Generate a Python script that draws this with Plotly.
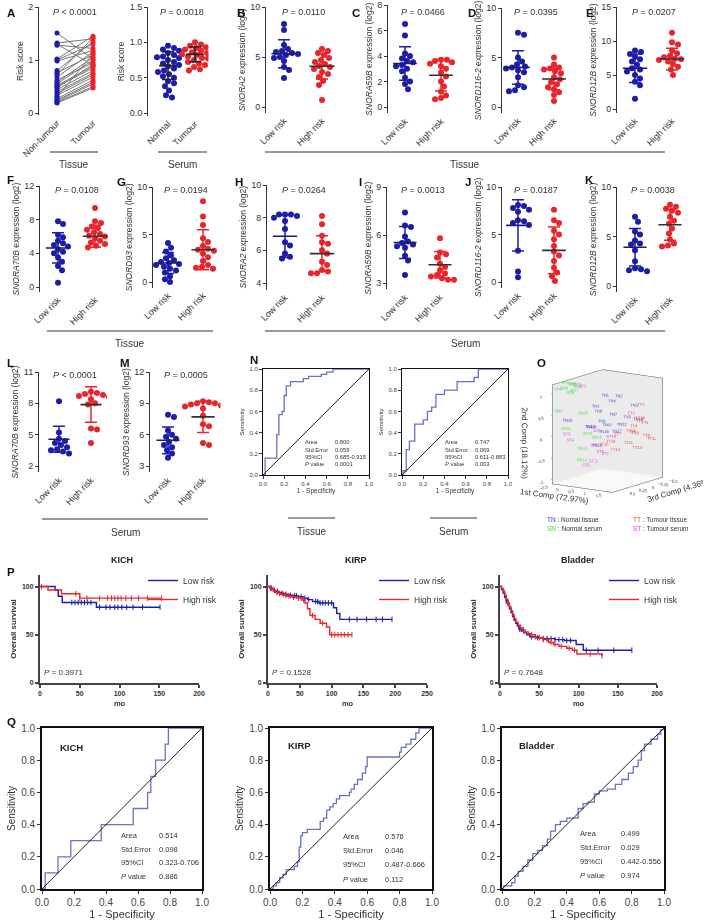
import plotly.graph_objects as go

W, H = 709, 923
FONT = 'Arial, Liberation Sans, sans-serif'
BLUE = '#1d1da8'
RED = '#e8252b'
ROC_LINE = '#6674c0'

# ---------------- data ----------------
# A: paired tissue risk scores (same patient, non-tumour vs tumour)
a_nontumour = [1.51, 1.32, 1.30, 1.28, 1.02, 1.00, 0.98, 0.80, 0.76, 0.72, 0.68, 0.62, 0.58, 0.55,
               0.52, 0.50, 0.47, 0.44, 0.40, 0.37, 0.33, 0.30, 0.27, 0.24, 0.22, 0.20, 0.19]
a_tumour = [1.02, 1.40, 0.90, 1.22, 1.45, 1.30, 1.18, 1.35, 1.10, 1.42, 1.15, 0.95, 1.05, 1.00,
            0.88, 0.85, 0.92, 0.80, 0.75, 0.72, 0.68, 1.12, 0.62, 0.58, 0.55, 0.50, 0.47]
# A: serum risk scores
a_normal = [0.95, 0.92, 0.90, 0.88, 0.85, 0.82, 0.80, 0.79, 0.78, 0.75, 0.72, 0.70, 0.68, 0.66,
            0.63, 0.60, 0.58, 0.55, 0.52, 0.50, 0.45, 0.42, 0.38, 0.32, 0.25, 0.22]
a_serum_tumour = [1.00, 0.97, 0.95, 0.93, 0.92, 0.90, 0.88, 0.86, 0.85, 0.83, 0.82, 0.80, 0.78,
                  0.77, 0.75, 0.72, 0.70, 0.68, 0.65, 0.62, 0.60]
a_serum_mean = [0.67, 0.83]
a_serum_sd = [0.195, 0.105]

# B-E tissue, F-G tissue, H-M serum (low risk / high risk, mean, SD)
b_low = [8.3, 7.7, 6.2, 5.8, 5.6, 5.5, 5.4, 5.3, 5.2, 5.0, 4.9, 4.6, 4.0, 3.7, 2.9]
b_high = [5.8, 5.6, 5.4, 5.2, 4.9, 4.7, 4.5, 4.3, 4.1, 4.0, 3.8, 3.5, 3.3, 3.0, 2.6, 2.2, 0.7]
b_mean, b_sd = [5.33, 4.07], [1.40, 1.27]

c_low = [6.5, 5.6, 4.2, 4.0, 3.8, 3.6, 3.5, 3.3, 3.2, 3.0, 2.8, 2.3, 2.0, 1.8, 1.4]
c_high = [3.7, 3.7, 3.6, 3.5, 3.4, 3.2, 3.0, 2.7, 2.4, 2.0, 1.6, 1.2, 0.9, 0.7, 0.6]
c_mean, c_sd = [3.41, 2.49], [1.31, 1.24]

d_low = [7.5, 7.3, 5.0, 4.6, 4.3, 4.1, 4.0, 3.9, 3.7, 3.5, 3.0, 2.2, 2.0, 1.7, 1.6]
d_high = [5.0, 4.3, 4.0, 3.9, 3.8, 3.6, 3.4, 3.0, 2.8, 2.5, 2.3, 2.0, 1.8, 1.5, 1.2, 0.6]
d_mean, d_sd = [4.00, 2.83], [1.69, 1.10]

e_low = [8.6, 8.4, 8.1, 7.7, 7.3, 7.0, 6.5, 6.0, 5.8, 5.5, 5.0, 4.5, 4.0, 3.5, 1.5]
e_high = [11.2, 9.8, 9.5, 8.6, 8.2, 7.8, 7.6, 7.4, 7.3, 7.2, 7.0, 6.6, 6.2, 5.8, 5.0]
e_mean, e_sd = [6.0, 7.35], [2.1, 1.6]

f_low = [7.8, 7.5, 6.2, 5.9, 5.5, 5.2, 5.0, 4.8, 4.5, 4.2, 4.0, 3.5, 3.0, 2.5, 2.0, 0.5]
f_high = [9.4, 7.8, 7.6, 7.2, 7.0, 6.8, 6.5, 6.3, 6.1, 6.0, 5.8, 5.5, 5.3, 5.1, 4.9, 4.7]
f_mean, f_sd = [4.64, 6.03], [1.80, 1.30]

g_low = [4.1, 3.6, 3.2, 2.8, 2.5, 2.3, 2.1, 2.0, 1.9, 1.8, 1.6, 1.4, 1.2, 1.0, 0.6, 0.3, 0.0]
g_high = [8.5, 6.9, 6.0, 4.6, 4.2, 3.8, 3.5, 3.4, 3.3, 3.0, 2.6, 2.2, 1.8, 1.6, 1.5, 1.4]
g_mean, g_sd = [2.0, 3.4], [1.1, 2.1]

h_low = [8.2, 8.2, 8.2, 8.1, 8.0, 7.8, 7.3, 6.5, 6.3, 5.8, 5.6, 5.5]
h_high = [8.1, 7.6, 6.9, 6.5, 6.4, 6.0, 5.8, 5.3, 5.1, 4.8, 4.7, 4.6, 4.6]
h_mean, h_sd = [6.86, 5.80], [1.30, 1.10]

i_low = [7.4, 6.6, 6.5, 5.9, 5.6, 5.5, 5.4, 5.3, 5.2, 4.7, 4.4, 3.5]
i_high = [5.8, 4.9, 4.8, 4.6, 4.2, 4.0, 3.8, 3.6, 3.5, 3.4, 3.3, 3.2, 3.2]
i_mean, i_sd = [5.53, 4.14], [1.00, 0.83]

j_low = [8.1, 8.0, 7.8, 7.6, 7.4, 6.5, 6.4, 6.2, 6.0, 3.3, 1.1, 0.5]
j_high = [7.6, 6.5, 6.2, 5.4, 5.0, 4.5, 3.8, 3.2, 2.8, 2.2, 1.5, 1.0, 0.6, 0.1]
j_mean, j_sd = [5.96, 3.33], [2.70, 2.45]

k_low = [7.0, 6.5, 5.5, 5.2, 4.6, 4.3, 4.2, 3.6, 2.5, 1.8, 1.7, 1.6, 1.5]
k_high = [8.2, 8.0, 7.8, 7.6, 7.4, 7.0, 6.6, 6.3, 5.8, 5.3, 4.7, 4.3, 4.1, 4.0]
k_mean, k_sd = [3.92, 6.18], [1.90, 1.55]

l_low = [8.2, 5.2, 4.6, 4.4, 4.2, 4.0, 3.8, 3.6, 3.5, 3.4, 3.2]
l_high = [9.1, 9.0, 8.9, 8.8, 8.7, 8.6, 8.4, 8.0, 7.9, 5.6, 5.5, 4.2]
l_mean, l_sd = [4.56, 7.88], [1.25, 1.70]

m_low = [7.9, 7.7, 6.4, 6.0, 5.8, 5.6, 5.3, 5.0, 4.8, 4.5, 4.2, 3.8]
m_high = [9.2, 9.1, 9.0, 9.0, 8.9, 8.8, 8.7, 8.5, 7.8, 7.0, 6.8, 5.2, 5.0]
m_mean, m_sd = [5.46, 7.70], [1.28, 1.50]

# N: ROC curves (tissue / serum)
n_tissue_fpr = [0, 0.02, 0.13, 0.15, 0.18, 0.20, 0.22, 0.26, 0.38, 0.43, 0.55, 0.60, 0.66, 1.0]
n_tissue_tpr = [0, 0.16, 0.38, 0.57, 0.60, 0.75, 0.84, 0.88, 0.91, 0.93, 0.95, 0.97, 1.0, 1.0]
n_serum_fpr = [0, 0.01, 0.04, 0.07, 0.12, 0.20, 0.24, 0.28, 0.32, 0.40, 0.52, 0.68, 0.72, 1.0]
n_serum_tpr = [0, 0.04, 0.24, 0.32, 0.48, 0.52, 0.60, 0.64, 0.76, 0.80, 0.88, 0.92, 1.0, 1.0]
n_tissue_stats = ['0.800', '0.059', '0.685-0.915', '0.0001']
n_serum_stats = ['0.747', '0.069', '0.611-0.883', '0.003']

# O: PCA scores (1st, 2nd, 3rd component)
o_tn_pc1 = [0.60, 0.65, 0.55, 0.70, 0.90, 0.50, 0.60, 0.70, 0.80, 0.50, 0.60, 0.75, 0.90, 0.40, -0.40, 0.55, 0.65, 0.45]
o_tn_pc2 = [0.80, 0.70, 0.60, 0.65, 0.45, 0.45, 0.30, 0.25, 0.20, 0.15, 0.10, 0.05, 0.10, 0.10, 0.20, -0.05, -0.10, -0.35]
o_tn_pc3 = [0.10, -0.20, 0.30, 0.00, -0.40, 0.20, -0.10, 0.25, -0.30, 0.40, 0.05, -0.20, -0.50, 0.30, 0.35, 0.10, -0.15, 0.20]
o_tt_pc1 = [1.00, 0.95, 1.10, 1.20, 1.00, 1.30, 0.90, 1.10, 1.20, 0.80, 1.00, 1.25, 0.90, 1.10, 0.70, 1.05, 1.15]
o_tt_pc2 = [0.45, 0.30, 0.10, 0.05, 0.00, -0.05, -0.10, -0.15, -0.25, -0.25, -0.35, -0.35, -0.45, -0.50, -0.30, 0.15, -0.05]
o_tt_pc3 = [-0.50, -0.30, -0.40, -0.20, -0.60, -0.10, 0.00, -0.30, -0.50, 0.10, -0.20, -0.60, 0.05, -0.35, 0.20, -0.45, -0.15]
o_sn_pc1 = [-0.40, -0.35, -0.30, -0.25, -0.20, -0.15, -0.30, -0.45, -0.50, 0.10, -0.30, 0.10, 0.15, 0.20, 0.30]
o_sn_pc2 = [1.10, 1.05, 1.00, 0.95, 1.05, 0.90, 0.88, 0.98, 0.45, 0.40, 0.05, -0.10, -0.40, -0.65, -0.20]
o_sn_pc3 = [0.40, 0.30, 0.50, 0.20, 0.35, 0.45, 0.25, 0.55, 0.50, 0.30, 0.45, 0.20, 0.35, 0.40, 0.10]
o_st_pc1 = [-0.10, 0.00, -0.35, -0.30, 0.30, 0.35, 0.45, 0.50, 0.20, 0.60, 0.40]
o_st_pc2 = [1.05, 1.00, -0.10, -0.25, -0.05, -0.35, -0.60, -0.50, -0.80, -0.20, -0.70]
o_st_pc3 = [0.30, 0.25, 0.40, 0.35, 0.10, 0.20, 0.00, 0.15, 0.30, -0.05, 0.25]

# P: Kaplan-Meier (step times in months, survival %, censor times)
kich_low_t = [0, 19, 23, 28, 71, 151]
kich_low_s = [100, 96.5, 90, 83.5, 78.6, 78.6]
kich_low_cens = [40, 44, 48, 52, 56, 60, 64, 75, 83, 88, 94, 98, 103, 109, 117, 129, 151]
kich_high_t = [0, 10, 27, 50, 153]
kich_high_s = [100, 96.5, 92.5, 88, 88]
kich_high_cens = [2, 45, 50, 59, 75, 85, 90, 94, 98, 102, 108, 115, 124, 135, 153]

kirp_low_t = [0, 3, 6, 9, 12, 16, 20, 25, 32, 40, 48, 55, 62, 70, 80, 103, 108, 113, 195]
kirp_low_s = [100, 98.5, 97, 96, 95, 94, 93, 92, 91, 90.5, 89.5, 88, 86.5, 84.5, 83, 78, 72, 66, 66]
kirp_low_cens = [5, 10, 15, 22, 28, 35, 42, 45, 52, 58, 64, 75, 78, 82, 86, 90, 95, 100, 128, 140, 155, 170, 180, 195]
kirp_high_t = [0, 3, 6, 9, 12, 16, 20, 25, 30, 38, 45, 52, 58, 62, 66, 74, 82, 92, 97, 132]
kirp_high_s = [100, 98, 97, 96, 94, 93, 92, 91, 90, 89, 88, 86, 83, 77, 70, 66, 62, 58, 50, 50]
kirp_high_cens = [4, 8, 14, 18, 24, 28, 33, 40, 48, 56, 70, 86, 100, 105, 110, 115, 120, 126, 132]

blad_low_t = [0, 2, 4, 6, 8, 10, 12, 14, 16, 18, 20, 22, 24, 27, 30, 34, 38, 45, 55, 70, 82, 97, 106, 168]
blad_low_s = [100, 97, 93, 89, 85, 81, 77, 73, 69, 65, 62, 59, 56, 54, 52, 50, 48, 47, 46, 45, 44, 40, 34, 34]
blad_low_cens = [8, 25, 40, 48, 55, 60, 65, 70, 75, 80, 85, 90, 110, 125, 145, 168]
blad_high_t = [0, 2, 4, 6, 8, 10, 12, 14, 16, 18, 20, 23, 26, 29, 32, 36, 40, 45, 50, 55, 62, 68, 75, 85, 92, 98, 130]
blad_high_s = [100, 98, 95, 91, 87, 83, 79, 75, 71, 67, 63, 60, 57, 55, 53, 51, 50, 48, 47, 45, 42, 40, 38, 36, 34, 30, 28]
blad_high_cens = [5, 10, 30, 40, 45, 50, 55, 60, 65, 70, 78, 88, 95, 115, 130]

# Q: ROC curves on TCGA cohorts
q_kich_fpr = [0, 0.02, 0.10, 0.18, 0.37, 0.57, 0.66, 0.68, 0.71, 0.77, 0.79, 1.0]
q_kich_tpr = [0, 0.10, 0.20, 0.30, 0.40, 0.50, 0.60, 0.70, 0.80, 0.90, 1.0, 1.0]
q_kirp_fpr = [0, 0.02, 0.04, 0.06, 0.08, 0.10, 0.13, 0.15, 0.17, 0.18, 0.19, 0.20, 0.23, 0.31, 0.33,
              0.35, 0.37, 0.39, 0.41, 0.43, 0.49, 0.50, 0.52, 0.54, 0.57, 0.59, 0.60, 0.80, 0.81, 0.84,
              0.87, 0.90, 0.92, 1.0]
q_kirp_tpr = [0, 0.02, 0.04, 0.07, 0.09, 0.12, 0.12, 0.14, 0.17, 0.26, 0.33, 0.35, 0.37, 0.42, 0.44,
              0.49, 0.51, 0.53, 0.56, 0.58, 0.60, 0.62, 0.65, 0.68, 0.72, 0.76, 0.82, 0.85, 0.88, 0.90,
              0.93, 0.97, 1.0, 1.0]
q_blad_fpr = [0, 0.01, 0.03, 0.06, 0.08, 0.10, 0.13, 0.16, 0.19, 0.22, 0.25, 0.28, 0.30, 0.33, 0.36,
              0.40, 0.44, 0.47, 0.50, 0.53, 0.57, 0.60, 0.65, 0.70, 0.74, 0.78, 0.81, 0.84, 0.86, 0.88,
              0.92, 0.96, 0.98, 1.0]
q_blad_tpr = [0.0, 0.02, 0.02, 0.04, 0.08, 0.11, 0.14, 0.18, 0.22, 0.24, 0.27, 0.31, 0.36, 0.40, 0.42,
              0.44, 0.44, 0.50, 0.53, 0.54, 0.59, 0.61, 0.62, 0.65, 0.68, 0.72, 0.76, 0.80, 0.86, 0.90,
              0.93, 0.96, 0.99, 1.0]
q_kich_stats = ['0.514', '0.098', '0.323-0.706', '0.886']
q_kirp_stats = ['0.576', '0.046', '0.487-0.666', '0.112']
q_blad_stats = ['0.499', '0.029', '0.442-0.556', '0.974']

stat_names = ['Area', 'Std.Error', '95%CI', '<i>P</i> value']
risk_labels = ['Low risk', 'High risk']

# ---------------- helpers ----------------
fig = go.Figure()
axes = {}
ann = []
shapes = []
n_ax = [0]


def new_axes(x0, x1, y0, y1, xkw, ykw):
    n_ax[0] += 1
    s = '' if n_ax[0] == 1 else str(n_ax[0])
    axes['xaxis' + s] = dict(domain=[x0 / W, x1 / W], anchor='y' + s, automargin=False, **xkw)
    axes['yaxis' + s] = dict(domain=[1 - y1 / H, 1 - y0 / H], anchor='x' + s, automargin=False, **ykw)
    return 'x' + s, 'y' + s


def label(x, y, s, size=9, color='#222', xanchor='center', yanchor='middle', weight='normal'):
    ann.append(dict(x=x / W, y=1 - y / H, xref='paper', yref='paper', text=s, showarrow=False,
                    xanchor=xanchor, yanchor=yanchor,
                    font=dict(size=size, color=color, family=FONT, weight=weight)))


def hline(y, x0, x1, width=1.2):
    shapes.append(dict(type='line', xref='paper', yref='paper', x0=x0 / W, x1=x1 / W,
                       y0=1 - y / H, y1=1 - y / H, line=dict(color='#333', width=width)))


def swarm(vals, center, ppx, ppy, d=5.6, step=1.0):
    placed, out = [], []
    for v in vals:
        yp = v * ppy
        k = 0
        pos = None
        while pos is None:
            for o in ([0.0] if k == 0 else [k * step, -k * step]):
                if all((o - a) ** 2 + (yp - b) ** 2 >= d * d for a, b in placed):
                    pos = o
                    break
            k += 1
        placed.append((pos, yp))
        out.append(center + pos / ppx)
    return out


def dot_axes(geom, ticktext, ytitle, ptext, p_y, tickfmt=None):
    yax_x, c0, c1, yt_px, yt_v, yb_px, yb_v, ymin, tickvals = geom
    ppx = c1 - c0
    ppy = (yb_px - yt_px) / (yt_v - yb_v)
    xmin = (yax_x - c0) / ppx
    y_bottom = yb_px + (yb_v - ymin) * ppy
    xa, ya = new_axes(
        yax_x, c0 + 1.5 * ppx, yt_px, y_bottom,
        dict(range=[xmin, 1.5], showline=False, showgrid=False, zeroline=False, tickvals=[0, 1],
             ticktext=ticktext, tickangle=-45, ticks='', tickfont=dict(size=9, color='#333', family=FONT)),
        dict(range=[ymin, yt_v], showline=True, linecolor='#333', linewidth=1, ticks='outside', ticklen=3,
             tickcolor='#333', tickvals=tickvals, tickformat=tickfmt, showgrid=False, zeroline=False,
             tickfont=dict(size=9, color='#333', family=FONT),
             title=dict(text=ytitle, font=dict(size=8.5, color='#333', family=FONT), standoff=3)))
    label((c0 + c1) / 2, p_y, ptext, size=9, color='#333')
    return xa, ya, ppx, ppy


def dot_panel(geom, low, high, mean, sd, ticktext, ytitle, ptext, p_y,
              sd_colors=(BLUE, RED), mean_colors=('#1a1a70', '#333'), tickfmt=None):
    xa, ya, ppx, ppy = dot_axes(geom, ticktext, ytitle, ptext, p_y, tickfmt)
    for c, vals, col in ((0, low, BLUE), (1, high, RED)):
        fig.add_trace(go.Scatter(x=swarm(vals, c, ppx, ppy), y=vals, mode='markers', xaxis=xa, yaxis=ya,
                                 marker=dict(size=6, color=col), showlegend=False, hoverinfo='y'))
    for c in (0, 1):
        fig.add_trace(go.Scatter(x=[c], y=[mean[c]], mode='markers', xaxis=xa, yaxis=ya,
                                 marker=dict(size=1, color='rgba(0,0,0,0)'), showlegend=False,
                                 error_y=dict(type='data', array=[sd[c]], width=6, thickness=1.5,
                                              color=sd_colors[c])))
        fig.add_trace(go.Scatter(x=[c - 0.33, c + 0.33], y=[mean[c], mean[c]], mode='lines', xaxis=xa,
                                 yaxis=ya, line=dict(color=mean_colors[c], width=1.6), showlegend=False))


# ---------------- A (paired tissue) ----------------
xa, ya, ppx, ppy = dot_axes((39, 57, 93, 7, 2, 113, 0, -0.04, [0, 1, 2]), ['Non-tumour', 'Tumour'],
                            'Risk score', '<i>P</i> < 0.0001', 12)
px_, py_ = [], []
for u, v in zip(a_nontumour, a_tumour):
    px_ += [0, 1, None]
    py_ += [u, v, None]
fig.add_trace(go.Scatter(x=px_, y=py_, mode='lines', xaxis=xa, yaxis=ya, line=dict(color='#777', width=1),
                         showlegend=False, hoverinfo='skip'))
fig.add_trace(go.Scatter(x=[0] * len(a_nontumour), y=a_nontumour, mode='markers', xaxis=xa, yaxis=ya,
                         marker=dict(size=5, color=BLUE), showlegend=False))
fig.add_trace(go.Scatter(x=[1] * len(a_tumour), y=a_tumour, mode='markers', xaxis=xa, yaxis=ya,
                         marker=dict(size=5, color=RED), showlegend=False))

# A (serum)
dot_panel((148, 168, 195, 7, 1.5, 113, 0, -0.04, [0, 0.5, 1.0, 1.5]), a_normal, a_serum_tumour,
          a_serum_mean, a_serum_sd, ['Normal', 'Tumour'], 'Risk score', '<i>P</i> = 0.0018', 12,
          sd_colors=('#222', '#222'), mean_colors=('#222', '#222'), tickfmt='.1f')

panels = [
    ((266, 284, 322, 7, 10, 107, 0, -0.6, [0, 5, 10]), b_low, b_high, b_mean, b_sd, 'SNORA2', '0.0110', 12),
    ((388, 405, 441, 5, 8, 107, 0, -0.5, [0, 2, 4, 6, 8]), c_low, c_high, c_mean, c_sd, 'SNORA59B', '0.0466', 12),
    ((502, 518, 554, 8, 10, 107, 0, -0.6, [0, 5, 10]), d_low, d_high, d_mean, d_sd, 'SNORD116-2', '0.0395', 12),
    ((617, 635, 672, 7, 15, 109, 0, -0.6, [0, 5, 10, 15]), e_low, e_high, e_mean, e_sd, 'SNORD12B', '0.0207', 12),
    ((40, 58, 95, 186, 12, 287, 0, -0.6, [0, 4, 8, 12]), f_low, f_high, f_mean, f_sd, 'SNORA70B', '0.0108', 190),
    ((153, 168, 203, 187, 10, 282, 0, -0.6, [0, 5, 10]), g_low, g_high, g_mean, g_sd, 'SNORD93', '0.0194', 190),
    ((267, 285, 322, 185, 10, 283, 4, 3.6, [4, 6, 8, 10]), h_low, h_high, h_mean, h_sd, 'SNORA2', '0.0264', 190),
    ((387, 405, 440, 187, 9, 283, 3, 2.6, [3, 6, 9]), i_low, i_high, i_mean, i_sd, 'SNORA59B', '0.0013', 190),
    ((502, 518, 554, 187, 10, 282, 0, -0.6, [0, 5, 10]), j_low, j_high, j_mean, j_sd, 'SNORD116-2', '0.0187', 190),
    ((617, 635, 670, 187, 10, 286, 0, -0.6, [0, 5, 10]), k_low, k_high, k_mean, k_sd, 'SNORD12B', '0.0038', 190),
    ((39, 59, 91, 372, 11, 466, 2, 1.4, [2, 5, 8, 11]), l_low, l_high, l_mean, l_sd, 'SNORA70B', '< 0.0001', 375),
    ((150, 168, 203, 372, 12, 466, 3, 2.4, [3, 6, 9, 12]), m_low, m_high, m_mean, m_sd, 'SNORD93', '0.0005', 375),
]
for geom, lo, hi, mn, sd, gene, p, p_y in panels:
    ptxt = '<i>P</i> ' + (p if p.startswith('<') else '= ' + p)
    dot_panel(geom, lo, hi, mn, sd, risk_labels, '<i>%s</i> expression (log2)' % gene, ptxt, p_y)


# ---------------- ROC helper ----------------
def roc_panel(x0, x1, y0, y1, fpr, tpr, stats, sx, vx, sy, tick, tsize, xtsize, lw, ssize,
              title=None, title_xy=None, ytitle_standoff=4):
    tf = dict(size=tick, color='#444', family=FONT)
    common = dict(range=[0, 1], tickvals=[0, 0.2, 0.4, 0.6, 0.8, 1.0], tickformat='.1f', showline=True,
                  mirror=True, linecolor='#111', linewidth=lw, ticks='outside', ticklen=3, tickcolor='#333',
                  showgrid=False, zeroline=False, tickfont=tf)
    xa, ya = new_axes(x0, x1, y0, y1,
                      dict(common, title=dict(text='1 - Specificity', standoff=2,
                                              font=dict(size=xtsize, color='#333', family=FONT))),
                      dict(common, title=dict(text='Sensitivity', standoff=ytitle_standoff,
                                              font=dict(size=tsize, color='#333', family=FONT))))
    shapes.append(dict(type='line', xref=xa, yref=ya, x0=0, y0=0, x1=1, y1=1,
                       line=dict(color='#222', width=1)))
    fig.add_trace(go.Scatter(x=fpr, y=tpr, mode='lines', line=dict(color=ROC_LINE, width=1.3, shape='hv'),
                             xaxis=xa, yaxis=ya, showlegend=False))
    for name, val, yy in zip(stat_names, stats, sy):
        for xx, t in ((sx, name), (vx, val)):
            ann.append(dict(x=xx, y=yy, xref=xa, yref=ya, text=t, showarrow=False, xanchor='left',
                            font=dict(size=ssize, color='#333', family=FONT)))
    if title:
        ann.append(dict(x=title_xy[0], y=title_xy[1], xref=xa, yref=ya, text=title, showarrow=False,
                        xanchor='left', font=dict(size=9.5, color='#222', family=FONT, weight='bold')))


# N
roc_panel(263, 369, 369, 475, n_tissue_fpr, n_tissue_tpr, n_tissue_stats, 0.38, 0.66,
          [0.31, 0.24, 0.17, 0.10], 6, 6, 6.5, 1, 5.8)
roc_panel(402, 508, 369, 475, n_serum_fpr, n_serum_tpr, n_serum_stats, 0.39, 0.67,
          [0.31, 0.24, 0.17, 0.10], 6, 6, 6.5, 1, 5.8)

# Q
roc_panel(42, 202, 728, 889, q_kich_fpr, q_kich_tpr, q_kich_stats, 0.48, 0.72,
          [0.333, 0.244, 0.166, 0.075], 10, 10, 11, 1.6, 7.5, 'KICH', (0.1, 0.88))
roc_panel(270, 432, 728, 889, q_kirp_fpr, q_kirp_tpr, q_kirp_stats, 0.44, 0.70,
          [0.327, 0.238, 0.151, 0.062], 10, 10, 11, 1.6, 7.5, 'KIRP', (0.1, 0.89))
roc_panel(502, 664, 728, 889, q_blad_fpr, q_blad_tpr, q_blad_stats, 0.47, 0.72,
          [0.346, 0.257, 0.17, 0.083], 10, 10, 11, 1.6, 7.5, 'Bladder', (0.09, 0.89))


# ---------------- P: Kaplan-Meier ----------------
def surv_at(ts, ss, t):
    s = ss[0]
    for ti, si in zip(ts, ss):
        if ti <= t:
            s = si
    return s


def km_panel(x0, x1, xmax, xticks, curves, ptext, legend_name, title, title_x):
    tf = dict(size=7, color='#333', family=FONT, weight='bold')
    xa, ya = new_axes(x0, x1, 575, 683,
                      dict(range=[0, xmax], tickvals=xticks, showline=True, linecolor='#444', linewidth=2,
                           ticks='outside', ticklen=3, tickwidth=1.5, tickcolor='#444', showgrid=False,
                           zeroline=False, tickfont=tf,
                           title=dict(text='mo', standoff=4, font=dict(size=7.5, color='#333', family=FONT,
                                                                         weight='bold'))),
                      dict(range=[0, 112], tickvals=[0, 50, 100], showline=True, linecolor='#444', linewidth=2,
                           ticks='outside', ticklen=3, tickwidth=1.5, tickcolor='#444', showgrid=False,
                           zeroline=False, tickfont=tf,
                           title=dict(text='Overall survival', standoff=4,
                                      font=dict(size=8, color='#333', family=FONT, weight='bold'))))
    for name, ts, ss, cens, col in curves:
        fig.add_trace(go.Scatter(x=ts, y=ss, mode='lines', name=name, legend=legend_name,
                                 line=dict(color=col, width=1.4, shape='hv'), xaxis=xa, yaxis=ya))
        fig.add_trace(go.Scatter(x=cens, y=[surv_at(ts, ss, c) for c in cens], mode='markers',
                                 marker=dict(symbol='line-ns', size=4, line=dict(width=1, color=col)),
                                 xaxis=xa, yaxis=ya, showlegend=False))
    ann.append(dict(x=3, y=11, xref=xa, yref=ya, text=ptext, showarrow=False, xanchor='left',
                    font=dict(size=8, color='#333', family=FONT)))
    label(title_x, 560, title, size=9, weight='bold')


km_panel(40, 199, 200, [0, 50, 100, 150, 200],
         [('Low risk', kich_low_t, kich_low_s, kich_low_cens, BLUE),
          ('High risk', kich_high_t, kich_high_s, kich_high_cens, RED)],
         '<i>P</i> = 0.3971', 'legend', 'KICH', 122)
km_panel(268, 427, 250, [0, 50, 100, 150, 200, 250],
         [('Low risk', kirp_low_t, kirp_low_s, kirp_low_cens, BLUE),
          ('High risk', kirp_high_t, kirp_high_s, kirp_high_cens, RED)],
         '<i>P</i> = 0.1528', 'legend2', 'KIRP', 356)
km_panel(500, 657, 200, [0, 50, 100, 150, 200],
         [('Low risk', blad_low_t, blad_low_s, blad_low_cens, BLUE),
          ('High risk', blad_high_t, blad_high_s, blad_high_cens, RED)],
         '<i>P</i> = 0.7648', 'legend3', 'Bladder', 578)

# ---------------- O: 3D PCA ----------------
for grp, xs, ys, zs, col in (('TN', o_tn_pc1, o_tn_pc3, o_tn_pc2, '#3a3ad8'),
                             ('TT', o_tt_pc1, o_tt_pc3, o_tt_pc2, '#f03a3a'),
                             ('SN', o_sn_pc1, o_sn_pc3, o_sn_pc2, '#3fd83f'),
                             ('ST', o_st_pc1, o_st_pc3, o_st_pc2, '#e03ce0')):
    fig.add_trace(go.Scatter3d(x=xs, y=ys, z=zs, mode='text', scene='scene', showlegend=False,
                               text=['%s%d' % (grp, i + 1) for i in range(len(xs))],
                               textfont=dict(size=4, color=col, family=FONT)))

ax3 = dict(showbackground=True, backgroundcolor='#ebebeb', showgrid=False, zeroline=False, showline=True,
           linecolor='#555', linewidth=1, mirror=True, showspikes=False, ticks='outside', ticklen=2,
           tickfont=dict(size=7, color='#333', family=FONT))
scene = dict(
    domain=dict(x=[512 / W, 703 / W], y=[1 - 512 / H, 1 - 350 / H]),
    xaxis=dict(ax3, title=dict(text='1st Comp (72.97%)', font=dict(size=8, color='#333', family=FONT)),
               range=[-0.6, 1.6], tickvals=[-0.5, 0, 0.5, 1.0, 1.5]),
    yaxis=dict(ax3, title=dict(text='3rd Comp (4.36%)', font=dict(size=8, color='#333', family=FONT)),
               autorange='reversed', tickvals=[-0.75, -0.5, -0.25, 0, 0.25, 0.5]),
    zaxis=dict(ax3, title=dict(text='2nd Comp (18.12%)', font=dict(size=8, color='#333', family=FONT)),
               range=[-1.1, 1.2], tickvals=[-1, -0.5, 0, 0.5, 1.0], backgroundcolor='#f8f8f8'),
    camera=dict(eye=dict(x=0.8, y=-1.17, z=0.3), center=dict(x=0, y=0, z=0),
                projection=dict(type='orthographic')),
    aspectmode='manual', aspectratio=dict(x=0.9, y=1.1, z=1.25),
    bgcolor='white')

label(545, 519, '<span style="color:#3a3ad8">TN</span> : Nomal tissue', size=6.5, color='#333', xanchor='left')
label(545, 528, '<span style="color:#3fd83f">SN</span> : Normal serum', size=6.5, color='#333', xanchor='left')
label(631, 519, '<span style="color:#f03a3a">TT</span> : Tumour tissue', size=6.5, color='#333', xanchor='left')
label(631, 528, '<span style="color:#e03ce0">ST</span> : Tumour serum', size=6.5, color='#333', xanchor='left')

# ---------------- group bars, group labels, letters ----------------
for y, x0, x1, txt, ty in ((152, 50, 98, 'Tissue', 165), (152, 158, 207, 'Serum', 165),
                           (152, 265, 665, 'Tissue', 165), (331, 47, 213, 'Tissue', 343),
                           (331, 265, 665, 'Serum', 343), (519, 42, 208, 'Serum', 532),
                           (518, 288, 335, 'Tissue', 531), (518, 430, 477, 'Serum', 531)):
    hline(y, x0, x1)
    label((x0 + x1) / 2, ty, txt, size=10, color='#333')

for lt, x, y in (('A', 5, 13), ('B', 235, 13), ('C', 350, 13), ('D', 466, 13), ('E', 584, 13),
                 ('F', 5, 180), ('G', 115, 182), ('H', 233, 182), ('I', 357, 182), ('J', 463, 182),
                 ('K', 583, 180), ('L', 5, 363), ('M', 118, 363), ('N', 248, 360), ('O', 535, 363),
                 ('P', 5, 572), ('Q', 5, 722)):
    label(x, y, lt, size=11.5, color='#111', xanchor='left', weight='bold')

leg = dict(xanchor='left', yanchor='top', bgcolor='rgba(0,0,0,0)', itemwidth=30, tracegroupgap=0,
           font=dict(size=8.5, color='#333', family=FONT))
fig.update_layout(
    template='none',
    width=W, height=H, margin=dict(l=0, r=0, t=0, b=0, autoexpand=False), paper_bgcolor='white',
    plot_bgcolor='white', font=dict(family=FONT, color='#333'), showlegend=True, annotations=ann,
    shapes=shapes, scene=scene,
    legend=dict(leg, x=143 / W, y=1 - 566 / H),
    legend2=dict(leg, x=374 / W, y=1 - 566 / H),
    legend3=dict(leg, x=604 / W, y=1 - 566 / H),
    **axes)

# the page itself gets no margin so the figure sits at the window's top-left corner
fig.write_html('out.html', config={'displayModeBar': False},
               post_script="document.body.style.margin='0';document.body.style.overflow='hidden';")
